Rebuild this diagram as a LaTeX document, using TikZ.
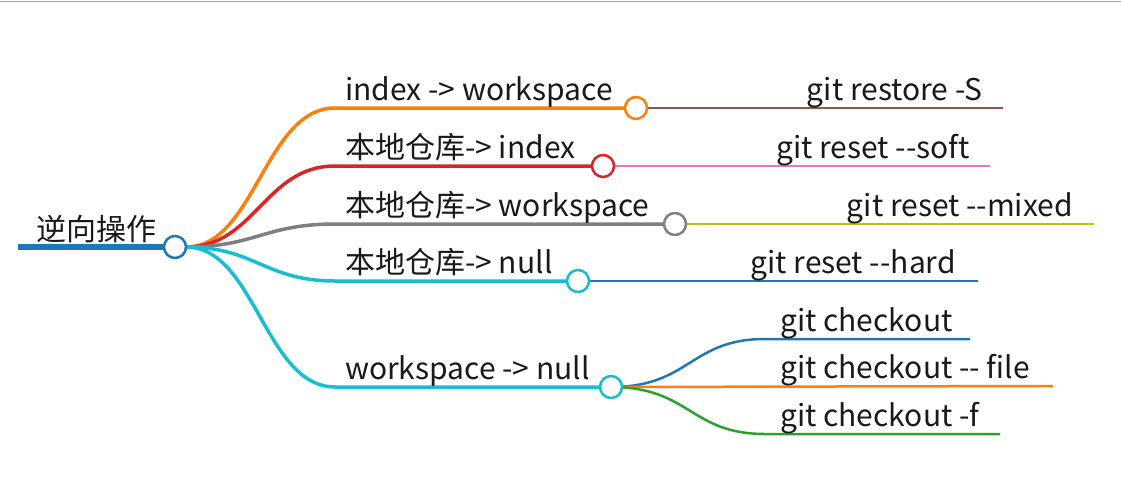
\documentclass[tikz,border=0pt]{standalone}
\usepackage{fontspec}
\setmainfont{Noto Sans CJK SC}
\begin{document}
\begin{tikzpicture}[x=1pt,y=-1pt,
  lbl/.style={font=\fontsize{30}{34}\selectfont,text=black!90,inner sep=0pt,anchor=base west},
  rlbl/.style={font=\fontsize{30}{34}\selectfont,text=black!90,inner sep=0pt,anchor=base east},
  dot/.style={circle,draw=#1,line width=2.5pt,fill=white,minimum size=22pt,inner sep=0pt},
  br/.style={line width=3.5pt,draw=#1}]
\useasboundingbox (0,0) rectangle (1121,496);
\draw[gray!70,line width=1pt] (0,1) -- (1121,1);
\definecolor{cblue}{HTML}{1F77B4}\definecolor{corange}{HTML}{FF7F0E}
\definecolor{cred}{HTML}{D62728}\definecolor{cgray}{HTML}{7F7F7F}
\definecolor{ccyan}{HTML}{17BECF}\definecolor{cbrown}{HTML}{8C564B}
\definecolor{cpink}{HTML}{E377C2}\definecolor{colive}{HTML}{BCBD22}
\definecolor{cgreen}{HTML}{2CA02C}
% root
\coordinate (r0) at (18,247);
\draw[cblue,line width=6pt] (r0) -- (175,247);
\node[lbl] (root) at (36,240) {逆向操作};
% level1 start coords
\coordinate (a0) at (335,108); \coordinate (b0) at (335,166);
\coordinate (c0) at (335,224); \coordinate (d0) at (335,281);
\coordinate (e0) at (335,387);
\coordinate (rc) at (186,247);
\draw[br=corange] (rc) .. controls (255,247) and (265,108) .. (a0) -- (636,108);
\draw[br=cred] (rc) .. controls (255,247) and (265,166) .. (b0) -- (603,166);
\draw[br=cgray] (rc) .. controls (255,247) and (265,224) .. (c0) -- (675,224);
\draw[br=ccyan] (rc) .. controls (255,247) and (265,281) .. (d0) -- (578,281);
\draw[br=ccyan] (rc) .. controls (255,247) and (265,387) .. (e0) -- (611,387);
% children lines
\coordinate (a1) at (1003,108); \coordinate (b1) at (990,166);
\coordinate (c1) at (1094,224); \coordinate (d1) at (978,281);
\draw[br=cbrown,line width=2.5pt] (636,108) -- (a1);
\draw[br=cpink,line width=2.5pt] (603,166) -- (b1);
\draw[br=colive,line width=2.5pt] (675,224) -- (c1);
\draw[br=cblue,line width=2.5pt] (578,281) -- (d1);
\coordinate (f1) at (970,339); \coordinate (g1) at (1053,386); \coordinate (h1) at (1000,434);
\draw[br=cblue,line width=2.5pt] (611,387) .. controls (690,387) and (690,339) .. (765,339) -- (f1);
\draw[br=corange,line width=2.5pt] (611,387) -- (g1);
\draw[br=cgreen,line width=2.5pt] (611,387) .. controls (690,387) and (690,434) .. (765,434) -- (h1);
% dots
\node[dot=cblue] (root dot) at (175,247) {};
\node[dot=corange] (A) at (636,108) {};
\node[dot=cred] (B) at (603,166) {};
\node[dot=cgray] (C) at (675,224) {};
\node[dot=ccyan] (D) at (578,281) {};
\node[dot=ccyan] (E) at (611,387) {};
% labels
\node[lbl] (la) at (345,100) {index -> workspace};
\node[lbl] (lb) at (345,158) {本地仓库-> index};
\node[lbl] (lc) at (345,216) {本地仓库-> workspace};
\node[lbl] (ld) at (345,273) {本地仓库-> null};
\node[lbl] (le) at (345,379) {workspace -> null};
\node[rlbl] (ca) at (983,100) {git restore -S};
\node[rlbl] (cb) at (970,158) {git reset -{}-soft};
\node[rlbl] (cc) at (1073,216) {git reset -{}-mixed};
\node[rlbl] (cd) at (956,273) {git reset -{}-hard};
\node[lbl] (cf) at (780,331) {git checkout};
\node[lbl] (cg) at (780,378) {git checkout -{}- file};
\node[lbl] (ch) at (780,426) {git checkout -f};
\end{tikzpicture}
\end{document}
